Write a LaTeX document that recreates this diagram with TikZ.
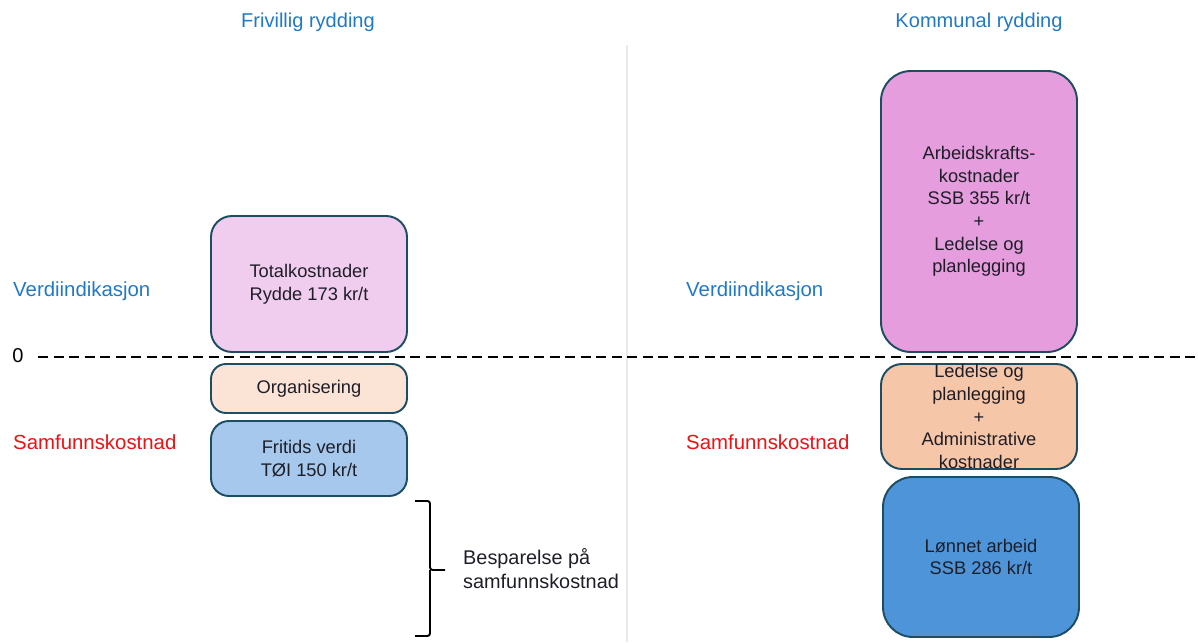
\documentclass[tikz,border=0pt]{standalone}
\usepackage{fontspec}
\setmainfont{Liberation Sans}
\usepackage{xcolor}
\definecolor{RYBlue}{HTML}{2079C7}
\definecolor{RYRed}{HTML}{EE1111}
\definecolor{RYEdge}{HTML}{1D4D63}
\definecolor{RYText}{HTML}{1E1E28}
\definecolor{RYPink}{HTML}{F0CDEE}
\definecolor{RYMagenta}{HTML}{E59DDD}
\definecolor{RYPeach}{HTML}{FBE3D6}
\definecolor{RYApricot}{HTML}{F6C6A8}
\definecolor{RYSky}{HTML}{A5C8EC}
\definecolor{RYAzure}{HTML}{4E94D8}
\definecolor{RYRule}{HTML}{EAEAEA}

\begin{document}
\begin{tikzpicture}[x=1cm,y=1cm,
  costbox/.style={draw=RYEdge,line width=1.1pt,rounded corners=0.42cm,
    minimum width=3.92cm,inner sep=0pt,align=center,text=RYText,
    font=\fontsize{10.4}{12.9}\selectfont},
  sidelabel/.style={anchor=west,font=\fontsize{11.6}{13.8}\selectfont},
  headlabel/.style={text=RYBlue,font=\fontsize{11.4}{13.6}\selectfont}]
\path[use as bounding box] (0,0) rectangle (23.96,12.84);
% skillelinje mellom kolonnene
\draw[RYRule,line width=0.8pt] (12.54,11.94) -- (12.54,0);
% overskrifter
\node[headlabel] (headfri) at (6.16,12.40) {Frivillig rydding};
\node[headlabel] (headkom) at (19.58,12.40) {Kommunal rydding};
% nullinje
\node[anchor=center,font=\fontsize{11.4}{13.6}\selectfont] (zero) at (0.36,5.72) {0};
\coordinate (zeroend) at (23.96,5.70);
\draw[line width=1.1pt,dash pattern=on 0.2cm off 0.11cm] (0.76,5.70) -- (zeroend);
% radetiketter
\node[sidelabel,text=RYBlue] (valleft) at (0.14,7.02) {Verdiindikasjon};
\node[sidelabel,text=RYRed] (socleft) at (0.14,4.00) {Samfunnskostnad};
\node[sidelabel,text=RYBlue] (valright) at (13.60,7.02) {Verdiindikasjon};
\node[sidelabel,text=RYRed] (socright) at (13.60,4.00) {Samfunnskostnad};
% frivillig rydding
\node[costbox,fill=RYPink,minimum height=2.72cm] (totalcost) at (6.18,7.16)
  {Totalkostnader\\Rydde 173 kr/t};
\node[costbox,fill=RYPeach,minimum height=0.98cm,rounded corners=0.3cm] (organise) at (6.18,5.07)
  {Organisering};
\node[costbox,fill=RYSky,minimum height=1.50cm,rounded corners=0.36cm] (leisure) at (6.18,3.67)
  {Fritids verdi\\TØI 150 kr/t};
% kommunal rydding
\node[costbox,fill=RYMagenta,minimum height=5.62cm,rounded corners=0.6cm] (labourcost) at (19.58,8.61)
  {Arbeidskrafts-\\kostnader\\SSB 355 kr/t\\+\\Ledelse og\\planlegging};
\node[costbox,fill=RYApricot,minimum height=2.10cm] (management) at (19.58,4.51)
  {Ledelse og\\planlegging\\+\\Administrative\\kostnader};
\node[costbox,fill=RYAzure,minimum height=3.20cm,rounded corners=0.6cm] (paidwork) at (19.62,1.70)
  {Lønnet arbeid\\SSB 286 kr/t};
% besparelse
\coordinate (bracetop) at (8.30,2.82);
\coordinate (bracebot) at (8.30,0.12);
\coordinate (bracetip) at (8.90,1.44);
\draw[line width=1.1pt,rounded corners=1.5pt] (bracetop) -| (8.60,1.44) -- (bracetip);
\draw[line width=1.1pt,rounded corners=1.5pt] (bracebot) -| (8.60,1.44);
\node[anchor=west,align=left,text=RYText,font=\fontsize{11.3}{13.2}\selectfont] (saving) at (9.14,1.47)
  {Besparelse på\\samfunnskostnad};
\end{tikzpicture}
\end{document}
